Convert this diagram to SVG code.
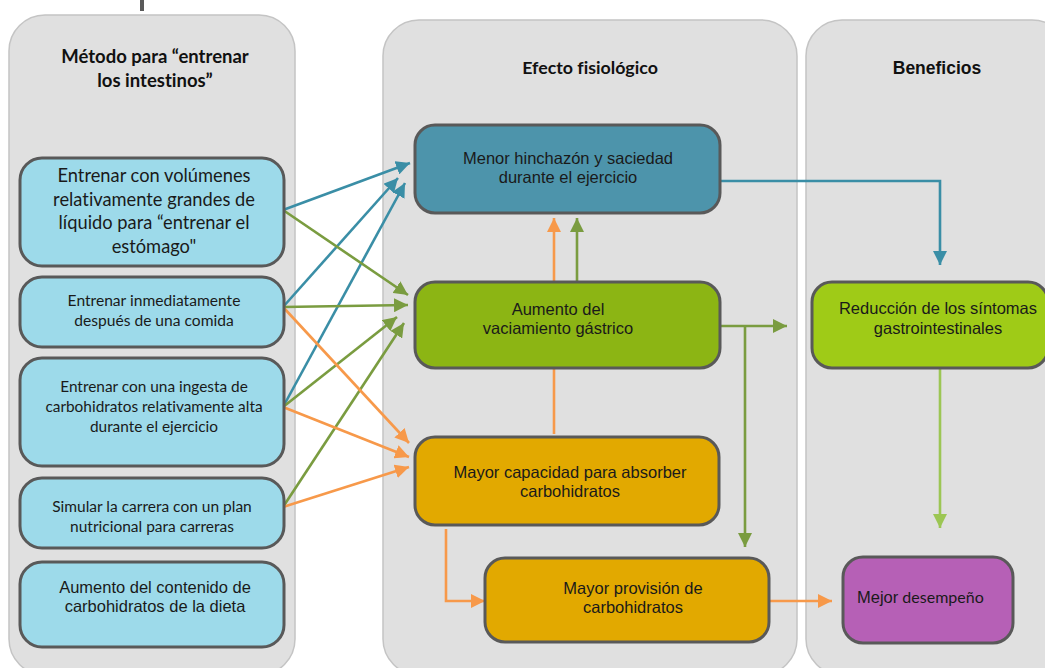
<svg xmlns="http://www.w3.org/2000/svg" width="1045" height="668" viewBox="0 0 1045 668">
<defs>
<style>
text{font-variant-ligatures:none}
.panel{fill:#e0e0e0;stroke:#c4c4c4;stroke-width:1.5}
.box{stroke:#595959;stroke-width:3}
.lb{fill:#9ddaea}
.cal{font-family:Lato,"Open Sans",sans-serif;fill:#1a1a1a;text-anchor:middle}
.ari{font-family:"Liberation Sans",Arial,sans-serif;fill:#1a1a1a;text-anchor:middle;font-size:16.5px}
.hd{font-family:Lato,"Open Sans",sans-serif;font-weight:bold;fill:#111;text-anchor:middle}
.c{fill:none;stroke-width:2.6}
.teal{stroke:#3a8ea6}
.grn{stroke:#7a9c40}
.org{stroke:#f7994a}
.lgr{stroke:#9cc654}
</style>
<marker id="mt" viewBox="0 0 14 14" refX="14" refY="7" markerWidth="14" markerHeight="14" markerUnits="userSpaceOnUse" orient="auto"><path d="M0,0 L14,7 L0,14 z" fill="#3a8ea6"/></marker>
<marker id="mg" viewBox="0 0 14 14" refX="14" refY="7" markerWidth="14" markerHeight="14" markerUnits="userSpaceOnUse" orient="auto"><path d="M0,0 L14,7 L0,14 z" fill="#7a9c40"/></marker>
<marker id="mo" viewBox="0 0 14 14" refX="14" refY="7" markerWidth="14" markerHeight="14" markerUnits="userSpaceOnUse" orient="auto"><path d="M0,0 L14,7 L0,14 z" fill="#f7994a"/></marker>
<marker id="ml" viewBox="0 0 14 14" refX="14" refY="7" markerWidth="14" markerHeight="14" markerUnits="userSpaceOnUse" orient="auto"><path d="M0,0 L14,7 L0,14 z" fill="#9cc654"/></marker>
</defs>
<rect width="1045" height="668" fill="#ffffff"/>
<rect x="140" y="0" width="4" height="11" fill="#5a5a5a"/>
<g id="panels">
<g id="panel-metodo">
<rect class="panel" x="9" y="15" width="286" height="660" rx="36"/>
<text class="hd" font-size="18.5" x="155" y="63">Método para “entrenar</text>
<text class="hd" font-size="18.5" x="155" y="87">los intestinos”</text>
</g>
<g id="panel-efecto">
<rect class="panel" x="383" y="20" width="414" height="655" rx="36"/>
<text class="hd" font-size="17.8" x="590" y="74">Efecto fisiológico</text>
</g>
<g id="panel-beneficios">
<rect class="panel" x="806" y="20" width="262" height="655" rx="36"/>
<text x="937" y="74" font-family="'Liberation Sans',Arial,sans-serif" font-weight="bold" font-size="17.5" text-anchor="middle" fill="#111">Beneficios</text>
</g>
</g>
<g id="connectors">
<path class="c teal" d="M283,210 L410,163" marker-end="url(#mt)"/>
<path class="c teal" d="M283,307 L398,178" marker-end="url(#mt)"/>
<path class="c teal" d="M283,407 L405,183" marker-end="url(#mt)"/>
<path class="c teal" d="M720,181 H940 V265" marker-end="url(#mt)"/>
<path class="c grn" d="M283,210 L408,295" marker-end="url(#mg)"/>
<path class="c grn" d="M283,307 L408,305" marker-end="url(#mg)"/>
<path class="c grn" d="M283,407 L397,317" marker-end="url(#mg)"/>
<path class="c grn" d="M283,507 L404,323" marker-end="url(#mg)"/>
<path class="c grn" d="M577,282 V218" marker-end="url(#mg)"/>
<path class="c grn" d="M720,326 H787" marker-end="url(#mg)"/>
<path class="c grn" d="M745,326 V547" marker-end="url(#mg)"/>
<path class="c org" d="M283,307 L409,443" marker-end="url(#mo)"/>
<path class="c org" d="M283,407 L409,457" marker-end="url(#mo)"/>
<path class="c org" d="M283,507 L409,467" marker-end="url(#mo)"/>
<path class="c org" d="M554,434 V218" marker-end="url(#mo)"/>
<path class="c org" d="M446,529 V601 H485" marker-end="url(#mo)"/>
<path class="c org" d="M769,601 H832" marker-end="url(#mo)"/>
<path class="c lgr" d="M940,368 V528" marker-end="url(#ml)"/>
</g>
<g id="n-volumenes">
<rect class="box lb" x="20" y="158" width="264" height="108" rx="22"/>
<text class="cal" font-size="18.3" x="154" y="182">Entrenar con volúmenes</text>
<text class="cal" font-size="18.3" x="154" y="206">relativamente grandes de</text>
<text class="cal" font-size="18.3" x="154" y="229">líquido para “entrenar el</text>
<text class="cal" font-size="18.3" x="154" y="253">estómago"</text>
</g>
<g id="n-comida">
<rect class="box lb" x="20" y="277" width="264" height="70" rx="22"/>
<text class="cal" font-size="15.6" x="154" y="306">Entrenar inmediatamente</text>
<text class="cal" font-size="15.6" x="154" y="326">después de una comida</text>
</g>
<g id="n-ingesta">
<rect class="box lb" x="20" y="358" width="264" height="108" rx="22"/>
<text class="cal" font-size="15.4" x="154" y="392">Entrenar con una ingesta de</text>
<text class="cal" font-size="15.4" x="154" y="412">carbohidratos relativamente alta</text>
<text class="cal" font-size="15.4" x="154" y="432">durante el ejercicio</text>
</g>
<g id="n-simular">
<rect class="box lb" x="20" y="478" width="264" height="70" rx="22"/>
<text class="cal" font-size="15.5" x="152" y="512">Simular la carrera con un plan</text>
<text class="cal" font-size="15.5" x="152" y="532">nutricional para carreras</text>
</g>
<g id="n-dieta">
<rect class="box lb" x="20" y="562" width="264" height="85" rx="22"/>
<text class="ari" x="155" y="593">Aumento del contenido de</text>
<text class="ari" x="155" y="612">carbohidratos de la dieta</text>
</g>
<g id="n-hinchazon">
<rect class="box" fill="#4d94ab" x="415" y="125" width="305" height="88" rx="20"/>
<text class="ari" x="568" y="164">Menor hinchazón y saciedad</text>
<text class="ari" x="568" y="183">durante el ejercicio</text>
</g>
<g id="n-vaciamiento">
<rect class="box" fill="#8cb514" x="415" y="282" width="305" height="86" rx="20"/>
<text class="ari" x="558" y="315">Aumento del</text>
<text class="ari" x="558" y="334">vaciamiento gástrico</text>
</g>
<g id="n-absorber">
<rect class="box" fill="#e2a900" x="415" y="437" width="304" height="88" rx="20"/>
<text class="ari" x="570" y="478">Mayor capacidad para absorber</text>
<text class="ari" x="570" y="497">carbohidratos</text>
</g>
<g id="n-provision">
<rect class="box" fill="#e2a900" x="485" y="558" width="284" height="84" rx="20"/>
<text class="ari" x="633" y="594">Mayor provisión de</text>
<text class="ari" x="633" y="613">carbohidratos</text>
</g>
<g id="n-reduccion">
<rect class="box" fill="#9fcb17" x="812" y="282" width="236" height="86" rx="20"/>
<text class="ari" x="938" y="314">Reducción de los síntomas</text>
<text class="ari" x="938" y="334">gastrointestinales</text>
</g>
<g id="n-desempeno">
<rect class="box" fill="#b660b6" x="843" y="557" width="170" height="86" rx="20"/>
<text x="857" y="603" fill="#1a1a1a"><tspan font-family="'Liberation Sans',Arial,sans-serif" font-size="16.5">Mejor</tspan><tspan font-family="Lato,'Open Sans',sans-serif" font-size="16"> desempeño</tspan></text>
</g>
</svg>
